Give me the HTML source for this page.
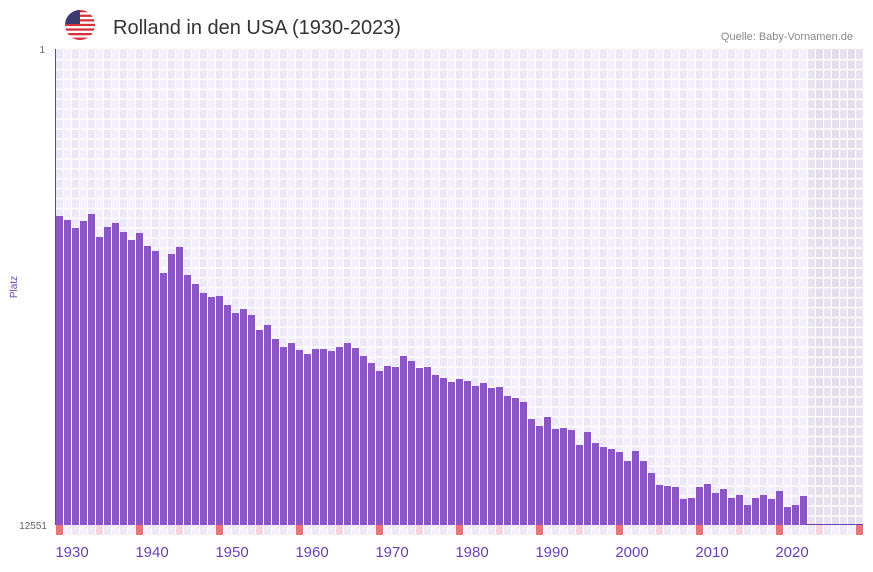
<!DOCTYPE html>
<html><head><meta charset="utf-8"><style>
body{margin:0;background:#fff;font-family:"Liberation Sans",sans-serif;}
svg text{font-family:"Liberation Sans",sans-serif;}
</style></head><body>
<svg id="chart" width="873" height="567" viewBox="0 0 873 567">
<g>
<clipPath id="fc"><circle cx="80" cy="25" r="15"/></clipPath>
<g clip-path="url(#fc)">
<rect x="65" y="10" width="30" height="30" fill="#fff"/>
<rect x="65" y="10" width="30" height="2.3" fill="#d8323a"/><rect x="65" y="14.6" width="30" height="2.3" fill="#d8323a"/><rect x="65" y="19.2" width="30" height="2.3" fill="#d8323a"/><rect x="65" y="23.8" width="30" height="2.3" fill="#d8323a"/><rect x="65" y="28.4" width="30" height="2.3" fill="#d8323a"/><rect x="65" y="33" width="30" height="2.3" fill="#d8323a"/><rect x="65" y="37.6" width="30" height="2.4" fill="#d8323a"/>
<rect x="65" y="10" width="15" height="14" fill="#3c3b6e"/>
</g></g>
<text x="113" y="34" font-size="20" fill="#333">Rolland in den USA (1930-2023)</text>
<text x="853" y="40" font-size="11" fill="#888" text-anchor="end">Quelle: Baby-Vornamen.de</text>
<text x="45" y="53" font-size="10" fill="#666" text-anchor="end">1</text>
<text x="47" y="529" font-size="10" fill="#666" text-anchor="end">12551</text>
<text transform="translate(17,287) rotate(-90)" font-size="10" fill="#6a3fb5" text-anchor="middle">Platz</text>
<g id="grid"></g>
<g id="bars"></g>
<g id="xlabels"></g>
<line x1="55.5" y1="49" x2="55.5" y2="525" stroke="#6a3fb5" stroke-width="1"/>
</svg>
<script>
const years = [];
for (let y = 1930; y <= 2023; y++) years.push(y);
const ranks = [4404,4509,4720,4536,4351,4957,4694,4588,4826,5037,4852,5195,5327,5907,5406,5221,5960,6197,6434,6540,6514,6751,6962,6856,7014,7410,7278,7647,7858,7753,7937,8043,7911,7911,7964,7858,7753,7885,8095,8280,8491,8359,8385,8095,8227,8412,8385,8596,8675,8781,8702,8754,8886,8807,8939,8913,9150,9203,9308,9757,9941,9704,10020,9994,10046,10442,10099,10389,10495,10547,10626,10864,10600,10864,11180,11496,11523,11549,11865,11839,11549,11470,11707,11602,11839,11760,12024,11839,11760,11865,11654,12077,12024,11786];
const tickLabels = ["1930","1940","1950","1960","1970","1980","1990","2000","2010","2020"];
const rankMin = 1, rankMax = 12551, firstYear = 1930, lastSlotYear = 2030;
const X0 = 55, SLOT = 8, Y0 = 49, Y1 = 525;
const xs = y => X0 + (y - firstYear) * SLOT;
const ys = r => Y0 + (r - rankMin) / (rankMax - rankMin) * (Y1 - Y0);
const NS = "http://www.w3.org/2000/svg";
function mk(tag, attrs, parent){const e=document.createElementNS(NS,tag);for(const k in attrs)e.setAttribute(k,attrs[k]);parent.appendChild(e);return e;}
const grid = document.getElementById('grid');
mk('rect',{x:X0,y:Y0,width:(lastSlotYear-firstYear+1)*SLOT,height:Y1-Y0,fill:'#fff'},grid);
for (let y = firstYear; y <= lastSlotYear; y++) {
  const fut = y >= 2024;
  const c = fut ? ((y%2)?'#e3deec':'#e7e3ef') : ((y%2)?'#f3effb':'#ede8f8');
  const r = mk('rect',{x:xs(y)+1,y:Y0,width:SLOT-1,height:Y1-Y0,fill:c},grid);
  
  
  if (y % 5 === 0) {
    const m = mk('rect',{x:xs(y)+1,y:Y1,width:SLOT-1,height:10,fill:(y%10===0)?'#e8747c':'#f5d6de'},grid);
    
    
  } else {
    mk('rect',{x:xs(y)+1,y:Y1,width:SLOT-1,height:10,fill:(y%2)?'#f3effb':'#ede8f8'},grid);
  }
}
for (let i = 1; i < 48; i++) {
  const yy = Y0 + i * (Y1 - Y0) / 48;
  mk('rect',{x:X0,y:yy,width:(lastSlotYear-firstYear+1)*SLOT,height:1.5,fill:'#fff'},grid);
}
mk('line',{x1:xs(2024),y1:Y1-0.5,x2:xs(lastSlotYear+1),y2:Y1-0.5,stroke:'#6a3fb5','stroke-width':1},grid);
const bars = document.getElementById('bars');
years.forEach((y,i)=>{
  const top = ys(ranks[i]);
  const b = mk('rect',{x:xs(y)+1,y:top,width:SLOT-1,height:Y1-top,fill:'#8b55c8'},bars);
  
  
});
const xl = document.getElementById('xlabels');
tickLabels.forEach(t=>{
  const e = mk('text',{x:xs(+t)+17,y:557,'font-size':15,fill:'#6a3fb5','text-anchor':'middle'},xl);
  e.textContent = t;
  
  
});
</script>
</body></html>
